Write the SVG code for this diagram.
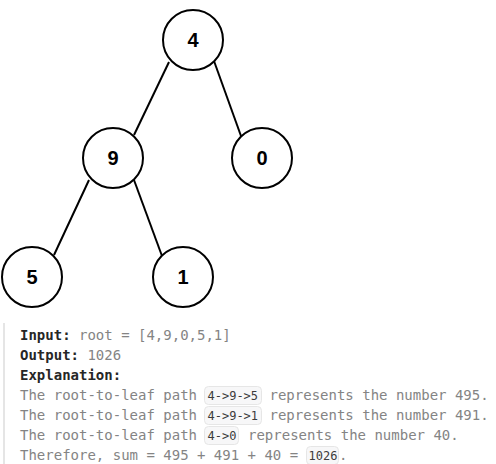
<svg xmlns="http://www.w3.org/2000/svg" width="496" height="464" viewBox="0 0 496 464">
<style>
.node circle{fill:#fff;stroke:#000;stroke-width:2}
.node text{font-family:"Liberation Sans",Arial,sans-serif;font-weight:bold;font-size:20px;text-anchor:middle;fill:#000}
.edges line{stroke:#000;stroke-width:2}
.t{font-family:"DejaVu Sans Mono",monospace;font-size:14px;fill:#848484;white-space:pre}
.b{font-weight:bold;fill:#262626}
.code rect{fill:#f7f7f8;stroke:#e6e6e6;stroke-width:1}
.c{font-family:"DejaVu Sans Mono",monospace;font-size:12px;fill:#3c3c3c}
</style>
<rect width="496" height="464" fill="#fff"/>
<g class="edges">
<line x1="169" y1="62" x2="134" y2="135"/>
<line x1="214" y1="61" x2="241" y2="136"/>
<line x1="89" y1="180" x2="54" y2="255"/>
<line x1="134" y1="180" x2="162" y2="256"/>
</g>
<g id="n4" class="node"><circle cx="193" cy="40" r="30"/><text x="193" y="47">4</text></g>
<g id="n9" class="node"><circle cx="113" cy="158" r="30"/><text x="113" y="165">9</text></g>
<g id="n0" class="node"><circle cx="262" cy="158" r="30"/><text x="262" y="165">0</text></g>
<g id="n5" class="node"><circle cx="32" cy="277" r="30"/><text x="32" y="284">5</text></g>
<g id="n1" class="node"><circle cx="183" cy="277" r="30"/><text x="183" y="284">1</text></g>
<rect x="3" y="323" width="2" height="141" fill="#e5e5e5"/>
<g class="code">
<rect x="204.5" y="386.5" width="57" height="18" rx="4"/>
<rect x="204.5" y="406.5" width="57" height="18" rx="4"/>
<rect x="204.5" y="426.5" width="34" height="18" rx="4"/>
<rect x="306.5" y="446.5" width="32" height="18" rx="4"/>
</g>
<text class="t" x="20" y="340"><tspan class="b">Input:</tspan> root = [4,9,0,5,1]</text>
<text class="t" x="20" y="360"><tspan class="b">Output:</tspan> 1026</text>
<text class="t" x="20" y="380"><tspan class="b">Explanation:</tspan></text>
<text class="t" x="20" y="400">The root-to-leaf path</text>
<text class="t" x="269.5" y="400">represents the number 495.</text>
<text class="t" x="20" y="420">The root-to-leaf path</text>
<text class="t" x="269.5" y="420">represents the number 491.</text>
<text class="t" x="20" y="440">The root-to-leaf path</text>
<text class="t" x="248" y="440">represents the number 40.</text>
<text class="t" x="20" y="460">Therefore, sum = 495 + 491 + 40 =</text>
<text class="t" x="339" y="460">.</text>
<text class="c" x="207.5" y="400">4-&gt;9-&gt;5</text>
<text class="c" x="207.5" y="420">4-&gt;9-&gt;1</text>
<text class="c" x="207.5" y="440">4-&gt;0</text>
<text class="c" x="308.5" y="460">1026</text>
</svg>
